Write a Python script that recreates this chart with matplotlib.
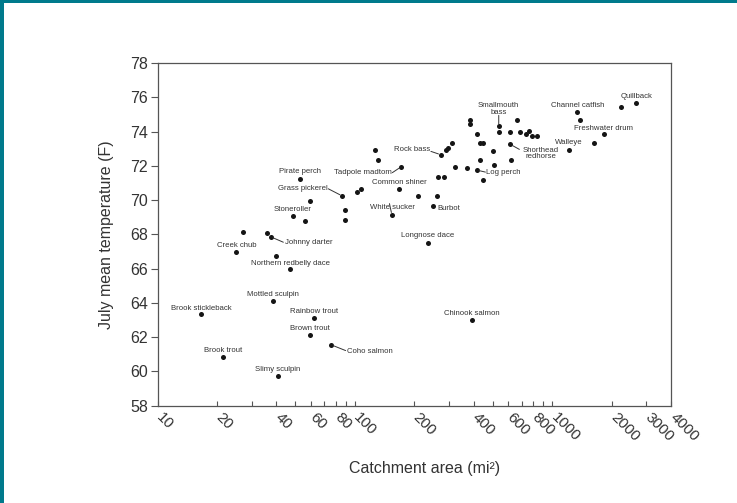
import matplotlib
matplotlib.use("Agg")
import matplotlib.pyplot as plt
from matplotlib.patches import Rectangle
from matplotlib.transforms import ScaledTranslation

plt.rcParams["font.family"] = ["Liberation Sans", "DejaVu Sans"]

# Catchment area (mi^2) and July mean temperature (F) for each species
species = [
    "Pirate perch", "Grass pickerel", "Stoneroller", "Johnny darter", "Creek chub",
    "Northern redbelly dace", "Mottled sculpin", "Brook stickleback", "Rainbow trout",
    "Brown trout", "Coho salmon", "Brook trout", "Slimy sculpin", "Chinook salmon",
    "Tadpole madtom", "Rock bass", "Smallmouth\nbass", "Shorthead\nredhorse", "Log perch",
    "Common shiner", "White sucker", "Burbot", "Longnose dace", "Quillback",
    "Channel catfish", "Freshwater drum", "Walleye",
]
species_area = [
    53, 86, 48.5, 37.6, 25.1,
    47, 38.4, 16.7, 62,
    59, 76, 21.4, 40.8, 393,
    172, 272, 536, 614, 415,
    168, 154, 250, 234, 2670,
    1340, 1830, 1210,
]
species_temp = [
    71.25, 70.25, 69.05, 67.85, 66.95,
    65.95, 64.1, 63.35, 63.1,
    62.15, 61.55, 60.85, 59.75, 63.0,
    71.95, 72.65, 74.3, 73.25, 71.75,
    70.65, 69.15, 69.65, 67.5, 75.65,
    75.15, 73.85, 72.95,
]

# Other species plotted without a name
other_area = [
    59.3, 89.2, 89.5, 55.7, 27.0, 35.9, 39.7,
    536, 384, 384, 667, 416, 610, 688, 735, 764, 791, 838,
    430, 447, 310, 298, 289, 502, 127, 131, 433, 619, 509,
    321, 369, 448, 263, 282, 103, 108, 210, 262,
    2243, 1385, 1637,
]
other_temp = [
    69.95, 69.45, 68.85, 68.75, 68.15, 68.05, 66.75,
    73.95, 74.65, 74.45, 74.65, 73.85, 73.95, 73.95, 73.85, 74.05, 73.75, 73.75,
    73.35, 73.35, 73.35, 73.05, 72.95, 72.85, 72.95, 72.35, 72.35, 72.35, 72.05,
    71.95, 71.85, 71.15, 71.35, 71.35, 70.45, 70.65, 70.25, 70.25,
    75.45, 74.65, 73.35,
]

x_ticks = [10, 20, 40, 60, 80, 100, 200, 400, 600, 800, 1000, 2000, 3000, 4000]
x_minor = [30, 50, 70, 90, 300, 500, 700, 900]
y_ticks = list(range(58, 79, 2))

# label placement in pixels relative to the dot: (dx, dy, ha, leader start or None)
PX = 0.72  # points per pixel at 100 dpi
layout = {
    "Pirate perch": (0, -7.4, "center", None),
    "Grass pickerel": (-39, -7, "center", (-13.6, -7)),
    "Stoneroller": (0, -6.4, "center", None),
    "Johnny darter": (14.3, 5.7, "left", (12.3, 5.3)),
    "Creek chub": (0, -6.8, "center", None),
    "Northern redbelly dace": (0, -5.7, "center", None),
    "Mottled sculpin": (0, -6.7, "center", None),
    "Brook stickleback": (0, -6, "center", None),
    "Rainbow trout": (0, -7, "center", None),
    "Brown trout": (0, -6.3, "center", None),
    "Coho salmon": (15.3, 6.7, "left", (14.3, 5.7)),
    "Brook trout": (0, -6.7, "center", None),
    "Slimy sculpin": (0, -6.3, "center", None),
    "Chinook salmon": (0, -6.4, "center", None),
    "Tadpole madtom": (-9.6, 6, "right", (-9, 6)),
    "Rock bass": (-10.4, -5, "right", (-9.7, -3.3)),
    "Smallmouth\nbass": (0, -17.5, "center", (0, -11)),
    "Shorthead\nredhorse": (30.2, 9.2, "center", (9, 5)),
    "Log perch": (9.3, 2, "left", (8.6, 2)),
    "Common shiner": (0, -6, "center", None),
    "White sucker": (0.3, -7, "center", (-2.4, -11)),
    "Burbot": (3.7, 2.7, "left", None),
    "Longnose dace": (0, -7.4, "center", None),
    "Quillback": (0, -6.4, "center", None),
    "Channel catfish": (0, -6, "center", None),
    "Freshwater drum": (0, -5.3, "center", None),
    "Walleye": (0, -6.7, "center", None),
}

fig = plt.figure(figsize=(7.37, 5.03), dpi=100)
ax = fig.add_axes([157.5 / 737, 1 - 405.7 / 503, (671 - 157.5) / 737, (405.7 - 63) / 503])

dot = "#151515"
text_c = "#333333"
spine_c = "#555555"

ax.scatter(other_area, other_temp, s=13, color=dot, linewidths=0, zorder=3)
ax.scatter(species_area, species_temp, s=13, color=dot, linewidths=0, zorder=3)

for name, xa, yt in zip(species, species_area, species_temp):
    dx, dy, ha, lead = layout[name]
    ax.annotate(name, xy=(xa, yt), xytext=(dx * PX, -dy * PX), textcoords="offset points",
                ha=ha, va="center", fontsize=5.6, color=text_c, linespacing=0.95, zorder=4)
    if lead is not None:
        ax.annotate("", xy=(xa, yt), xytext=(lead[0] * PX, -lead[1] * PX),
                    textcoords="offset points",
                    arrowprops=dict(arrowstyle="-", color="#333333", lw=0.7,
                                    shrinkA=0, shrinkB=1.6), zorder=4)

ax.set_xscale("log")
ax.set_xlim(10, 4000)
ax.set_ylim(58, 78)

ax.set_xticks(x_ticks)
ax.set_xticks(x_minor, minor=True)
ax.set_xticklabels([str(t) for t in x_ticks])
ax.xaxis.set_minor_formatter(matplotlib.ticker.NullFormatter())
ax.set_yticks(y_ticks)
ax.set_yticklabels([str(t) for t in y_ticks])

ax.tick_params(axis="x", which="both", direction="in", length=3.5, width=0.8,
               color=spine_c, labelsize=11, labelcolor=text_c, pad=3)
ax.tick_params(axis="y", direction="out", length=5, width=0.8, color=spine_c,
               labelsize=11.5, labelcolor=text_c, pad=2)

# slanted tick labels hanging down to the right of each tick
shift = ScaledTranslation(6 / 100, 0, fig.dpi_scale_trans)
for tick in ax.xaxis.get_major_ticks():
    lab = tick.label1
    lab.set_rotation(-45)
    lab.set_ha("left")
    lab.set_va("top")
    lab.set_rotation_mode("anchor")
    lab.set_transform(lab.get_transform() + shift)

for sp in ax.spines.values():
    sp.set_color(spine_c)
    sp.set_linewidth(0.9)

fig.text(425 / 737, 1 - 468 / 503, "Catchment area (mi\u00b2)", ha="center", va="center",
         fontsize=11.5, color=text_c)
fig.text(106 / 737, 1 - 234.5 / 503, "July mean temperature (F)", ha="center", va="center",
         rotation=90, fontsize=11.5, color=text_c)

# teal frame along the left and top edges
teal = "#007A8C"
fig.add_artist(Rectangle((0, 0), 4 / 737, 1, transform=fig.transFigure, color=teal, lw=0))
fig.add_artist(Rectangle((0, 1 - 3 / 503), 1, 3 / 503, transform=fig.transFigure, color=teal, lw=0))

fig.savefig("out.png", dpi=100, facecolor="white")
